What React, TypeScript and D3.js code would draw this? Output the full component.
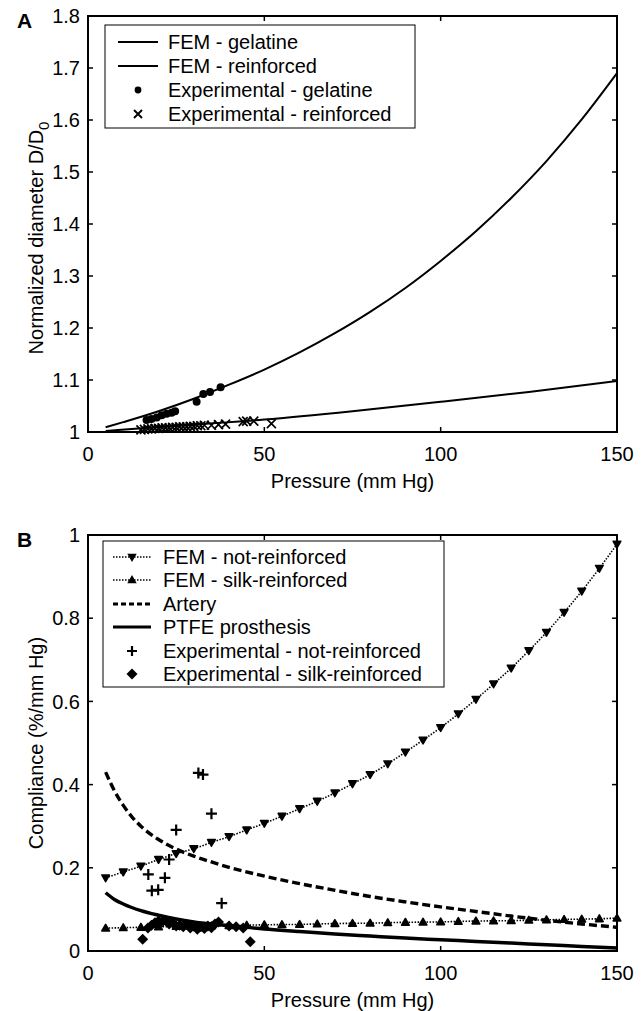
import * as React from "react";
import * as d3 from "d3";

// ---- panel A data ----
const femGelP = [5, 10, 20, 30, 40, 50, 60, 70, 80, 90, 100, 110, 120, 130, 140, 150];
const femGel = [1.009, 1.019, 1.04, 1.064, 1.091, 1.12, 1.153, 1.19, 1.231, 1.277, 1.329, 1.386, 1.45, 1.521, 1.601, 1.69];
const femReinP = [5, 25, 50, 75, 100, 125, 150];
const femRein = [1.002, 1.012, 1.024, 1.04, 1.058, 1.077, 1.098];
const expGelP = [16.6, 18, 19.5, 20.9, 22.3, 23.7, 24.7, 30.8, 32.7, 34.6, 37.6];
const expGel = [1.023, 1.025, 1.028, 1.032, 1.035, 1.037, 1.04, 1.058, 1.073, 1.077, 1.086];
const expReinP = [15, 16, 17, 18, 19, 20, 21, 22, 23, 24, 25, 26, 27, 28, 29, 30, 31, 32, 33, 35, 37, 39, 44, 45, 47, 52];
const expRein = [1.004, 1.005, 1.006, 1.006, 1.007, 1.007, 1.008, 1.008, 1.008, 1.009, 1.009, 1.01, 1.01, 1.01, 1.011, 1.011, 1.012, 1.012, 1.013, 1.013, 1.014, 1.015, 1.02, 1.021, 1.021, 1.016];

// ---- panel B data ----
const femBP = [5, 10, 15, 20, 25, 30, 35, 40, 45, 50, 55, 60, 65, 70, 75, 80, 85, 90, 95, 100, 105, 110, 115, 120, 125, 130, 135, 140, 145, 150];
const notRein = [0.176, 0.19, 0.204, 0.22, 0.234, 0.246, 0.261, 0.275, 0.291, 0.307, 0.324, 0.342, 0.36, 0.38, 0.402, 0.424, 0.45, 0.478, 0.507, 0.537, 0.57, 0.605, 0.642, 0.68, 0.722, 0.766, 0.814, 0.865, 0.92, 0.978];
const silkRein = [0.055, 0.056, 0.057, 0.058, 0.059, 0.06, 0.0605, 0.061, 0.062, 0.063, 0.0635, 0.064, 0.065, 0.066, 0.0665, 0.067, 0.068, 0.069, 0.0695, 0.07, 0.071, 0.072, 0.0725, 0.073, 0.074, 0.075, 0.0758, 0.0766, 0.0775, 0.079];
const arteryP = [5, 7.5, 10, 12.5, 15, 20, 25, 30, 35, 40, 50, 60, 70, 80, 90, 100, 110, 120, 130, 140, 150];
const artery = [0.43, 0.385, 0.35, 0.322, 0.3, 0.268, 0.245, 0.228, 0.214, 0.201, 0.18, 0.162, 0.146, 0.131, 0.118, 0.106, 0.095, 0.084, 0.074, 0.065, 0.057];
const ptfeP = [5, 7.5, 10, 15, 20, 25, 30, 40, 50, 60, 70, 80, 90, 100, 110, 120, 130, 140, 150];
const ptfe = [0.14, 0.124, 0.113, 0.097, 0.086, 0.077, 0.07, 0.061, 0.053, 0.047, 0.041, 0.036, 0.031, 0.027, 0.023, 0.019, 0.015, 0.011, 0.007];
const expNotP = [17.1, 18.1, 19.9, 21.8, 23, 25, 31.3, 32.6, 35, 37.9];
const expNot = [0.184, 0.145, 0.147, 0.176, 0.22, 0.291, 0.428, 0.424, 0.33, 0.115];
const expSilkP = [15.5, 17, 18, 19, 20, 21, 22, 23, 24, 25, 26, 27, 28, 29, 30, 31, 32, 33, 34, 35, 36, 37, 40, 42, 44, 46];
const expSilk = [0.028, 0.055, 0.062, 0.068, 0.072, 0.07, 0.074, 0.065, 0.068, 0.06, 0.062, 0.058, 0.064, 0.055, 0.06, 0.052, 0.058, 0.054, 0.06, 0.056, 0.065, 0.07, 0.06, 0.058, 0.055, 0.022];

const xTicks = [0, 50, 100, 150];
const aYTicks = [1, 1.1, 1.2, 1.3, 1.4, 1.5, 1.6, 1.7, 1.8];
const bYTicks = [0, 0.2, 0.4, 0.6, 0.8, 1];

const legendA = ["FEM - gelatine", "FEM - reinforced", "Experimental - gelatine", "Experimental - reinforced"];
const legendB = ["FEM - not-reinforced", "FEM - silk-reinforced", "Artery", "PTFE prosthesis", "Experimental - not-reinforced", "Experimental - silk-reinforced"];

const FONT = "'Liberation Sans', Arial, Helvetica, sans-serif";

const zip = (xs: number[], ys: number[]) => xs.map((x, i) => [x, ys[i]] as [number, number]);

// marker paths
const triPath = (cx: number, cy: number, s: number, down: boolean) =>
  down
    ? `M${cx - s},${cy - s * 0.75}L${cx + s},${cy - s * 0.75}L${cx},${cy + s}Z`
    : `M${cx - s},${cy + s * 0.75}L${cx + s},${cy + s * 0.75}L${cx},${cy - s}Z`;
const diamondPath = (cx: number, cy: number, s: number) =>
  `M${cx},${cy - s}L${cx + s},${cy}L${cx},${cy + s}L${cx - s},${cy}Z`;
const plusPath = (cx: number, cy: number, s: number) =>
  `M${cx - s},${cy}H${cx + s}M${cx},${cy - s}V${cy + s}`;
const crossPath = (cx: number, cy: number, s: number) =>
  `M${cx - s},${cy - s}L${cx + s},${cy + s}M${cx - s},${cy + s}L${cx + s},${cy - s}`;

type Sc = d3.ScaleLinear<number, number>;

const Frame = ({ x, y, yTicks, fmt }: { x: Sc; y: Sc; yTicks: number[]; fmt: (v: number) => string }) => {
  const [x0, x1] = x.range();
  const [y0, y1] = y.range(); // y0 bottom, y1 top
  const tl = 5;
  return (
    <g>
      <rect x={x0} y={y1} width={x1 - x0} height={y0 - y1} fill="none" stroke="#000" strokeWidth={2} />
      {xTicks.map((t) => (
        <g key={"x" + t}>
          <line x1={x(t)} x2={x(t)} y1={y0} y2={y0 - tl} stroke="#000" strokeWidth={1.5} />
          <line x1={x(t)} x2={x(t)} y1={y1} y2={y1 + tl} stroke="#000" strokeWidth={1.5} />
          <text x={x(t)} y={y0 + 29} textAnchor="middle" fontSize={20}>{t}</text>
        </g>
      ))}
      {yTicks.map((t) => (
        <g key={"y" + t}>
          <line x1={x0} x2={x0 + tl} y1={y(t)} y2={y(t)} stroke="#000" strokeWidth={1.5} />
          <line x1={x1} x2={x1 - tl} y1={y(t)} y2={y(t)} stroke="#000" strokeWidth={1.5} />
          <text x={x0 - 8} y={y(t)} dy="0.36em" textAnchor="end" fontSize={20}>{fmt(t)}</text>
        </g>
      ))}
      <text x={(x0 + x1) / 2} y={y0 + 56} textAnchor="middle" fontSize={20}>Pressure (mm Hg)</text>
    </g>
  );
};

export default function App() {
  const xA = d3.scaleLinear().domain([0, 150]).range([88, 617]);
  const yA = d3.scaleLinear().domain([1, 1.8]).range([432, 16]);
  const xB = d3.scaleLinear().domain([0, 150]).range([88, 617]);
  const yB = d3.scaleLinear().domain([0, 1]).range([951, 535]);

  const lineA = d3.line<[number, number]>().x((d) => xA(d[0])).y((d) => yA(d[1])).curve(d3.curveMonotoneX);
  const lineB = d3.line<[number, number]>().x((d) => xB(d[0])).y((d) => yB(d[1])).curve(d3.curveMonotoneX);

  const fmtA = (v: number) => (v === 1 ? "1" : d3.format(".1f")(v));
  const fmtB = (v: number) => (v === 0 || v === 1 ? String(v) : d3.format(".1f")(v));

  const lgA = { x: 105, y: 25, w: 310, h: 103, rows: [42, 66, 90, 114] };
  const lgB = { x: 103, y: 541, w: 341, h: 146, rows: [557, 580, 604, 627, 651, 674] };

  return (
    <svg width={644} height={1011} style={{ position: "absolute", left: 0, top: 0, background: "#fff" }} fontFamily={FONT}>
      <rect width={644} height={1011} fill="#fff" />

      {/* ---------- Panel A ---------- */}
      <text x={17} y={28} fontSize={21} fontWeight="bold">A</text>
      <path d={lineA(zip(femGelP, femGel)) || ""} fill="none" stroke="#000" strokeWidth={2} />
      <path d={lineA(zip(femReinP, femRein)) || ""} fill="none" stroke="#000" strokeWidth={2} />
      {zip(expGelP, expGel).map((d, i) => (
        <circle key={"g" + i} cx={xA(d[0])} cy={yA(d[1])} r={4} fill="#000" />
      ))}
      {zip(expReinP, expRein).map((d, i) => (
        <path key={"r" + i} d={crossPath(xA(d[0]), yA(d[1]), 4.5)} stroke="#000" strokeWidth={1.7} />
      ))}
      <Frame x={xA} y={yA} yTicks={aYTicks} fmt={fmtA} />
      <text transform={`translate(43,${238}) rotate(-90)`} textAnchor="middle" fontSize={20}>
        Normalized diameter D/D<tspan dy={6} fontSize={15}>0</tspan>
      </text>

      <g>
        <rect x={lgA.x} y={lgA.y} width={lgA.w} height={lgA.h} fill="#fff" stroke="#000" strokeWidth={1} />
        {legendA.map((t, i) => (
          <text key={t} x={168} y={lgA.rows[i] + 7} fontSize={20}>{t}</text>
        ))}
        <line x1={118} x2={158} y1={lgA.rows[0]} y2={lgA.rows[0]} stroke="#000" strokeWidth={2} />
        <line x1={118} x2={158} y1={lgA.rows[1]} y2={lgA.rows[1]} stroke="#000" strokeWidth={2} />
        <circle cx={138} cy={lgA.rows[2]} r={3.4} fill="#000" />
        <path d={crossPath(138, lgA.rows[3], 4)} stroke="#000" strokeWidth={1.9} />
      </g>

      {/* ---------- Panel B ---------- */}
      <text x={17} y={547} fontSize={21} fontWeight="bold">B</text>
      <path d={lineB(zip(ptfeP, ptfe)) || ""} fill="none" stroke="#000" strokeWidth={3.5} />
      <path d={lineB(zip(arteryP, artery)) || ""} fill="none" stroke="#000" strokeWidth={3.4} strokeDasharray="8,4" />
      <path d={lineB(zip(femBP, notRein)) || ""} fill="none" stroke="#000" strokeWidth={1.6} strokeDasharray="1.5,1.5" />
      <path d={lineB(zip(femBP, silkRein)) || ""} fill="none" stroke="#000" strokeWidth={1.6} strokeDasharray="1.5,1.5" />
      {zip(femBP, notRein).map((d, i) => (
        <path key={"n" + i} d={triPath(xB(d[0]), yB(d[1]), 3.8, true)} fill="#000" stroke="#000" strokeWidth={1.6} strokeLinejoin="round" />
      ))}
      {zip(femBP, silkRein).map((d, i) => (
        <path key={"s" + i} d={triPath(xB(d[0]), yB(d[1]), 3.8, false)} fill="#000" stroke="#000" strokeWidth={1.6} strokeLinejoin="round" />
      ))}
      {zip(expNotP, expNot).map((d, i) => (
        <path key={"p" + i} d={plusPath(xB(d[0]), yB(d[1]), 5.5)} stroke="#000" strokeWidth={2.2} />
      ))}
      {zip(expSilkP, expSilk).map((d, i) => (
        <path key={"d" + i} d={diamondPath(xB(d[0]), yB(d[1]), 5.5)} fill="#000" />
      ))}
      <Frame x={xB} y={yB} yTicks={bYTicks} fmt={fmtB} />
      <text transform={`translate(43,${743}) rotate(-90)`} textAnchor="middle" fontSize={20}>
        Compliance (%/mm Hg)
      </text>

      <g>
        <rect x={lgB.x} y={lgB.y} width={lgB.w} height={lgB.h} fill="#fff" stroke="#000" strokeWidth={1} />
        {legendB.map((t, i) => (
          <text key={t} x={163} y={lgB.rows[i] + 7} fontSize={20}>{t}</text>
        ))}
        <line x1={113} x2={151} y1={lgB.rows[0]} y2={lgB.rows[0]} stroke="#000" strokeWidth={1.4} strokeDasharray="1.5,1.5" />
        <path d={triPath(132, lgB.rows[0], 3.5, true)} fill="#000" stroke="#000" strokeWidth={1.4} />
        <line x1={113} x2={151} y1={lgB.rows[1]} y2={lgB.rows[1]} stroke="#000" strokeWidth={1.4} strokeDasharray="1.5,1.5" />
        <path d={triPath(132, lgB.rows[1], 3.5, false)} fill="#000" stroke="#000" strokeWidth={1.4} />
        <line x1={113} x2={151} y1={lgB.rows[2]} y2={lgB.rows[2]} stroke="#000" strokeWidth={3.2} strokeDasharray="5,3" />
        <line x1={113} x2={151} y1={lgB.rows[3]} y2={lgB.rows[3]} stroke="#000" strokeWidth={3.2} />
        <path d={plusPath(132, lgB.rows[4], 5)} stroke="#000" strokeWidth={2.2} />
        <path d={diamondPath(132, lgB.rows[5], 5.5)} fill="#000" />
      </g>
    </svg>
  );
}
